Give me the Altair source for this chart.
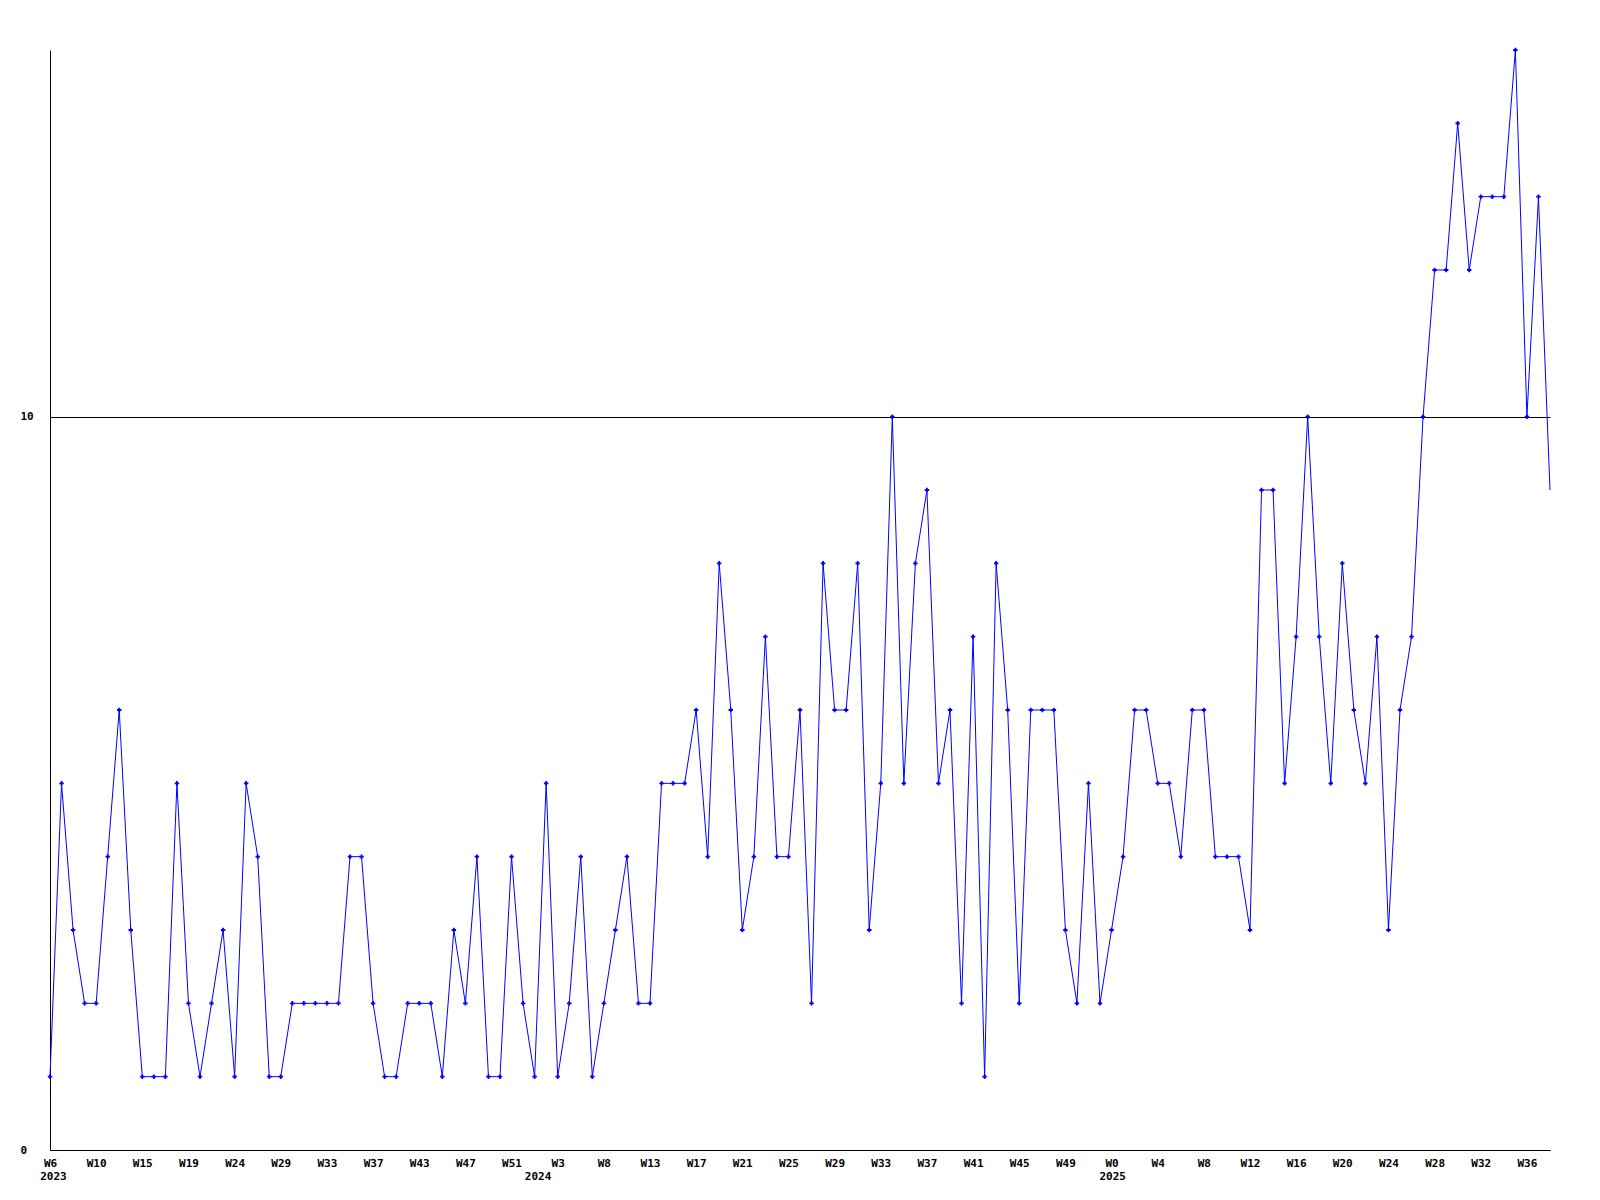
import altair as alt
import pandas as pd

# weekly values (131 points)
values = [
    1, 5, 3, 2, 2, 4, 6, 3, 1, 1,
    1, 5, 2, 1, 2, 3, 1, 5, 4, 1,
    1, 2, 2, 2, 2, 2, 4, 4, 2, 1,
    1, 2, 2, 2, 1, 3, 2, 4, 1, 1,
    4, 2, 1, 5, 1, 2, 4, 1, 2, 3,
    4, 2, 2, 5, 5, 5, 6, 4, 8, 6,
    3, 4, 7, 4, 4, 6, 2, 8, 6, 6,
    8, 3, 5, 10, 5, 8, 9, 5, 6, 2,
    7, 1, 8, 6, 2, 6, 6, 6, 3, 2,
    5, 2, 3, 4, 6, 6, 5, 5, 4, 6,
    6, 4, 4, 4, 3, 9, 9, 5, 7, 10,
    7, 5, 8, 6, 5, 7, 3, 6, 7, 10,
    12, 12, 14, 12, 13, 13, 13, 15, 10, 13, 9,
]

# x tick labels, one every 4 points
week_labels = [
    "W6", "W10", "W15", "W19", "W24", "W29", "W33", "W37", "W43", "W47",
    "W51", "W3", "W8", "W13", "W17", "W21", "W25", "W29", "W33", "W37",
    "W41", "W45", "W49", "W0", "W4", "W8", "W12", "W16", "W20", "W24",
    "W28", "W32", "W36",
]
label_step = 4

# year labels and the point index where each year starts
years = ["2023", "2024", "2025"]
year_start = [0.3, 42.3, 92.1]

y_ticks = [0, 10]

df = pd.DataFrame({"idx": list(range(len(values))), "value": values})
df_pts = df.iloc[:-1]  # last point sits on the clipped right edge, no marker
df_years = pd.DataFrame({"idx": year_start, "year": years})

FONT = "DejaVu Sans Mono"
BLUE = "#0000ff"
n = len(values) - 1

label_js = "[" + ",".join("'" + s + "'" for s in week_labels) + "]"

x_scale = alt.Scale(domain=[0, n], nice=False, zero=False)
y_scale = alt.Scale(domain=[0, 15], nice=False)

x_axis = alt.Axis(
    values=list(range(0, n + 1, label_step)),
    labelExpr=f"{label_js}[round(datum.value/{label_step})]",
    title=None, grid=False, ticks=False, tickSize=0,
    labelPadding=7, labelFont=FONT, labelFontWeight="bold",
    labelFontSize=11, labelColor="black", labelFlush=False,
    labelOverlap=False, domainColor="black", domainWidth=1,
)
y_axis = alt.Axis(
    values=y_ticks, format="d", title=None, grid=True, gridColor="black",
    gridWidth=1, gridOpacity=1, ticks=False, tickSize=0,
    labelAlign="left", labelPadding=30, labelFont=FONT,
    labelFontWeight="bold", labelFontSize=11, labelColor="black",
    domainColor="black", domainWidth=1,
)

line = alt.Chart(df).mark_line(color=BLUE, strokeWidth=1).encode(
    x=alt.X("idx:Q", scale=x_scale, axis=x_axis),
    y=alt.Y("value:Q", scale=y_scale, axis=y_axis),
)
points = alt.Chart(df_pts).mark_point(
    shape="cross", filled=True, size=20, color=BLUE, opacity=1
).encode(
    x=alt.X("idx:Q", scale=x_scale, axis=x_axis),
    y=alt.Y("value:Q", scale=y_scale, axis=y_axis),
)

year_text = alt.Chart(df_years).mark_text(
    align="center", baseline="top", font=FONT, fontWeight="bold",
    fontSize=11, color="black",
).encode(
    x=alt.X("idx:Q", scale=x_scale, axis=x_axis),
    y=alt.value(1121),
    text="year:N",
)

chart = (
    alt.layer(line, points, year_text)
    .properties(
        width=1500, height=1100,
        autosize=alt.AutoSizeParams(type="none"),
        padding={"left": 42, "top": 42, "right": 42, "bottom": 40},
        background="white",
    )
    .configure_view(stroke=None)
)

chart.save("out.html", embed_options={"renderer": "svg", "actions": False})
